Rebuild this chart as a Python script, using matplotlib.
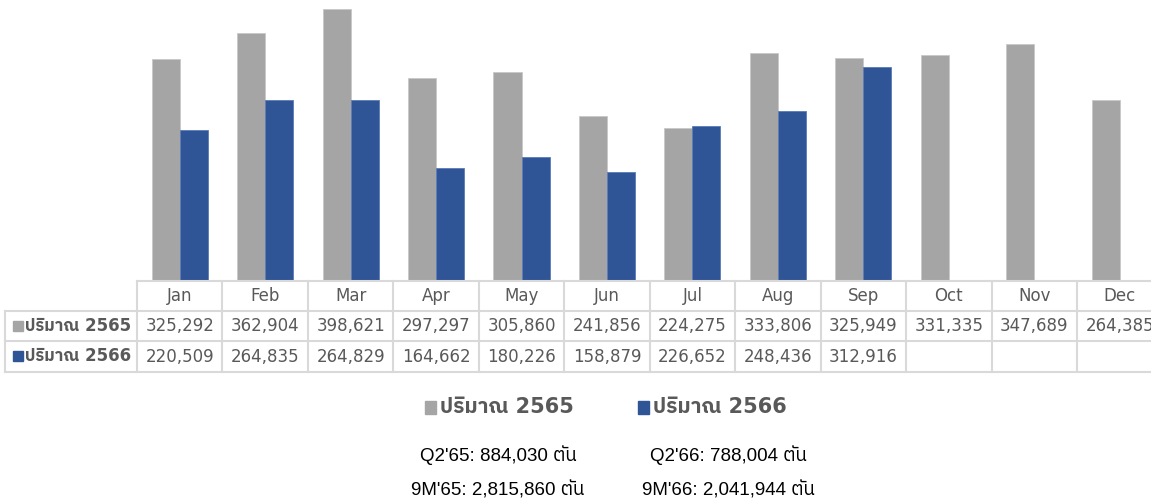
import matplotlib
matplotlib.use("Agg")
import matplotlib.pyplot as plt
import matplotlib.transforms as mtransforms
from matplotlib.patches import Rectangle
from matplotlib import font_manager
from matplotlib.ft2font import FT2Font
import numpy as np

months = ["Jan", "Feb", "Mar", "Apr", "May", "Jun", "Jul", "Aug", "Sep", "Oct", "Nov", "Dec"]
vol_2565 = [325292, 362904, 398621, 297297, 305860, 241856, 224275, 333806, 325949, 331335, 347689, 264385]
vol_2566 = [220509, 264835, 264829, 164662, 180226, 158879, 226652, 248436, 312916]
series_names = ["ปริมาณ 2565", "ปริมาณ 2566"]
notes_left = ["Q2'65: 884,030 ตัน", "9M'65: 2,815,860 ตัน"]
notes_right = ["Q2'66: 788,004 ตัน", "9M'66: 2,041,944 ตัน"]

GRAY = "#A5A5A5"
BLUE = "#2F5597"
TXT = "#595959"
GRID = "#D9D9D9"

# find a font that has Thai glyphs
thai_family = None
for fe in font_manager.fontManager.ttflist:
    try:
        f = FT2Font(fe.fname)
        cm = f.get_charmap()
        if 0x0E1B in cm and 0x0E13 in cm:
            thai_family = fe.name
            if "Sans" in fe.name:
                break
    except Exception:
        pass
fams = ["DejaVu Sans"] + ([thai_family] if thai_family else [])
narrow = ["Liberation Sans Narrow", "Liberation Sans"] + ([thai_family] if thai_family else [])

W, H = 1151, 501
fig = plt.figure(figsize=(W / 100, H / 100), dpi=100)
col_w = 85.45
x0 = 137
ax_left = x0 / W
ax_width = 12 * col_w / W
ax_h_px = 280
ax = fig.add_axes([ax_left, 1 - ax_h_px / H, ax_width, ax_h_px / H])

x = np.arange(len(months))
bw = 0.328
ax.bar(x[:len(vol_2565)] - bw / 2, vol_2565, bw, color=GRAY, edgecolor="#C8C8C8", linewidth=0.6)
ax.bar(x[:len(vol_2566)] + bw / 2, vol_2566, bw, color=BLUE, edgecolor="#5B7BB8", linewidth=0.6)
ax.set_xlim(-0.5, 11.5)
ax.set_ylim(0, 398621 * 280 / 271)
ax.axis("off")

# table (x in data, y in axes coords)
tr = mtransforms.blended_transform_factory(ax.transData, ax.transAxes)
def ypx(p):
    return (ax_h_px - p) / ax_h_px
y_lines = [ypx(281), ypx(311), ypx(341), ypx(372)]
left_edge = (5 - (x0 + col_w / 2)) / col_w
kw = dict(color=GRID, lw=1.5, transform=tr, clip_on=False)
ax.plot([-0.5, 11.5], [y_lines[0]] * 2, **kw)
for yl in y_lines[1:]:
    ax.plot([left_edge, 11.5], [yl] * 2, **kw)
for k in range(13):
    ax.plot([k - 0.5] * 2, [y_lines[0], y_lines[3]], **kw)
ax.plot([left_edge] * 2, [y_lines[1], y_lines[3]], **kw)

ymid = [(y_lines[i] + y_lines[i + 1]) / 2 for i in range(3)]
for i, m in enumerate(months):
    ax.text(i, ymid[0], m, ha="center", va="center", fontsize=12, color=TXT,
            family=fams, transform=tr, clip_on=False)

def fy(p):
    return 1 - p / H

for row, (vals, name, c) in enumerate([(vol_2565, series_names[0], GRAY), (vol_2566, series_names[1], BLUE)]):
    yy = ymid[row + 1]
    for i, v in enumerate(vals):
        ax.text(i, yy, f"{v:,}", ha="center", va="center", fontsize=12, color=TXT,
                family=fams, transform=tr, clip_on=False)
    ycen = 326 + row * 30
    fig.patches.append(Rectangle((13 / W, fy(ycen + 5)), 10 / W, 10 / H, color=c,
                                 transform=fig.transFigure, figure=fig))
    fig.text(25 / W, fy(ycen), name, ha="left", va="center", fontsize=12, color=TXT,
             fontweight="bold", family=fams)

# legend
for xs, name, c in [(425, series_names[0], GRAY), (638, series_names[1], BLUE)]:
    fig.patches.append(Rectangle((xs / W, fy(414)), 11 / W, 13 / H, color=c,
                                 transform=fig.transFigure, figure=fig))
    fig.text((xs + 15) / W, fy(407), name, ha="left", va="center", fontsize=15, color=TXT,
             fontweight="bold", family=fams)

# notes
for i, (a, b) in enumerate(zip(notes_left, notes_right)):
    yp = 455 + i * 35
    fig.text(498 / W, fy(yp), a, ha="center", va="center", fontsize=13.5, color="#000000", family=narrow)
    fig.text(728 / W, fy(yp), b, ha="center", va="center", fontsize=13.5, color="#000000", family=narrow)

fig.savefig("out.png", dpi=100)
